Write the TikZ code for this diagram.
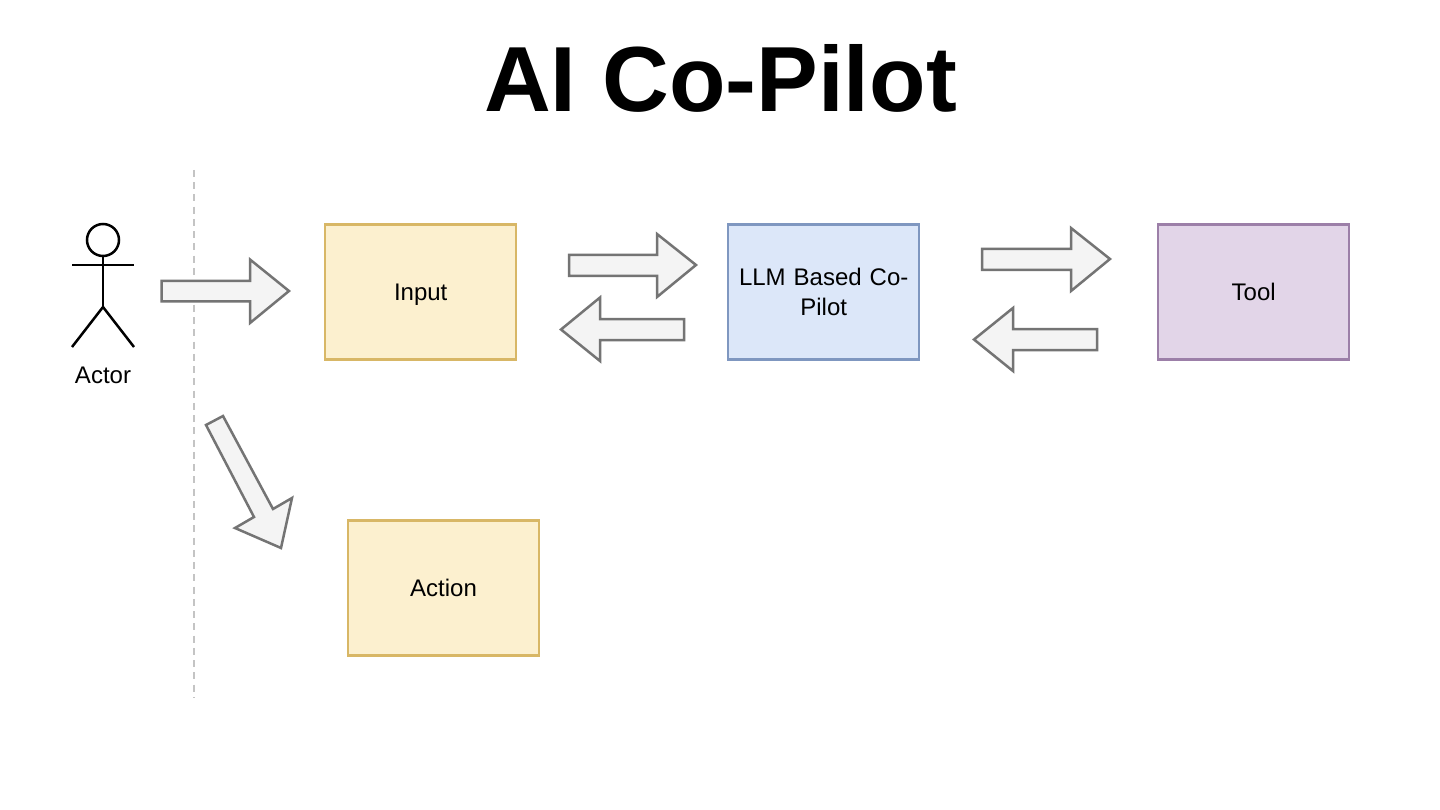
\documentclass[tikz,border=0pt]{standalone}
\usepackage{fontspec}
\setmainfont{Liberation Sans}
\definecolor{yfill}{HTML}{FCF0CF}
\definecolor{ydraw}{HTML}{D8B766}
\definecolor{bfill}{HTML}{DCE7F9}
\definecolor{bdraw}{HTML}{7F97C0}
\definecolor{pfill}{HTML}{E2D5E8}
\definecolor{pdraw}{HTML}{9C7FA8}
\definecolor{afill}{HTML}{F4F4F4}
\definecolor{adraw}{HTML}{747474}
\definecolor{dashc}{HTML}{C4C4C4}
\tikzset{
  blockbox/.style={draw, line width=2.4pt, minimum width=191pt, minimum height=135pt, inner sep=2pt, text width=180pt, align=center, font=\fontsize{24}{30}\selectfont, text=black, outer sep=0pt},
  yellowbox/.style={blockbox, fill=yfill, draw=ydraw},
  bluebox/.style={blockbox, fill=bfill, draw=bdraw},
  purplebox/.style={blockbox, fill=pfill, draw=pdraw},
  blockarrow/.style={draw=adraw, fill=afill, line width=2.5pt, line join=miter},
  stick/.style={draw=black, line width=2.5pt},
}
\begin{document}
\begin{tikzpicture}[x=1pt,y=-1pt]
\useasboundingbox (0,0) rectangle (1440,810);
\fill[white] (0,0) rectangle (1440,810);
\node[font=\bfseries\fontsize{92.5}{100}\selectfont, text=black, inner sep=0pt, anchor=base] (title) at (720.5,111.7) {AI Co-Pilot};
% divider
\coordinate (dtop) at (193.5,170);
\coordinate (dbot) at (193.5,698);
\draw[dashc, line width=2pt, dash pattern=on 7pt off 5.25pt] (dtop) -- (dbot);
% actor
\node[circle, stick, minimum size=32pt, inner sep=0pt, outer sep=0pt] (head) at (103,240) {};
\coordinate (armL) at (72,265);
\coordinate (armR) at (134,265);
\coordinate (hip) at (103,307);
\coordinate (legL) at (72,347);
\coordinate (legR) at (134,347);
\draw[stick] (armL) -- (armR);
\draw[stick] (head.south) -- (hip);
\draw[stick] (legL) -- (hip) -- (legR);
\node[font=\fontsize{24}{28}\selectfont, text=black, inner sep=0pt] (actor) at (103,375) {Actor};
% boxes
\node[yellowbox] (input) at (420.7,292) {\rule{0pt}{22pt}Input};
\node[bluebox] (llm) at (823.7,292) {LLM Based Co-\\Pilot};
\node[purplebox] (tool) at (1253.7,292) {Tool};
\node[yellowbox] (action) at (443.5,588) {Action};
% block arrows
\draw[blockarrow] (161.5,281) -- (250,281) -- (250,259.5) -- (289,291) -- (250,323) -- (250,301.5) -- (161.5,301.5) -- cycle;
\draw[blockarrow] (569,255) -- (657,255) -- (657,234) -- (696,265) -- (657,297) -- (657,276) -- (569,276) -- cycle;
\draw[blockarrow] (684,319) -- (600,319) -- (600,297.5) -- (561,329.5) -- (600,361) -- (600,340) -- (684,340) -- cycle;
\draw[blockarrow] (982,249) -- (1071,249) -- (1071,228) -- (1110,259) -- (1071,291) -- (1071,270) -- (982,270) -- cycle;
\draw[blockarrow] (1097,329) -- (1013,329) -- (1013,308) -- (974,339.5) -- (1013,371) -- (1013,350) -- (1097,350) -- cycle;
\draw[blockarrow] (206,425) -- (223,416) -- (273,509) -- (292,498) -- (281,548) -- (235,528) -- (254,517) -- cycle;
\end{tikzpicture}
\end{document}
